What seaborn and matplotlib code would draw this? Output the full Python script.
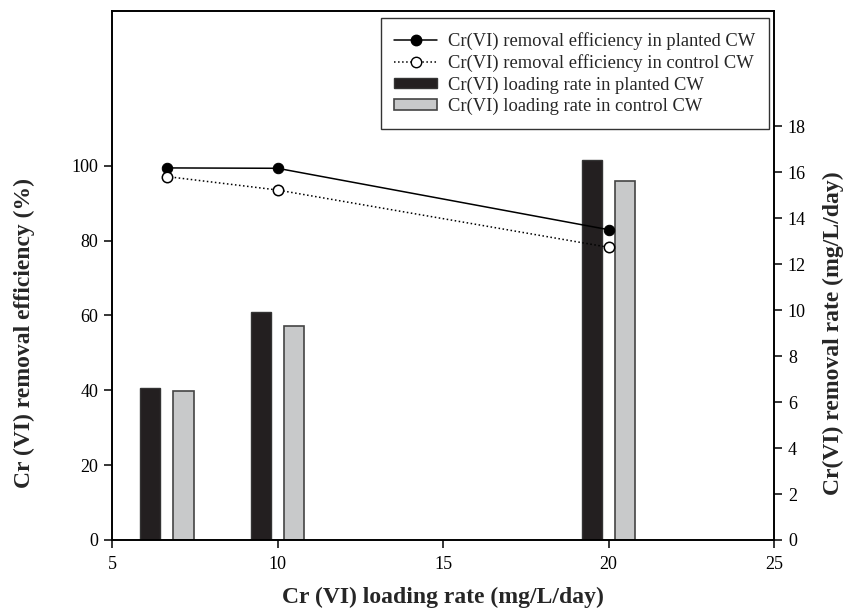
import matplotlib
matplotlib.use("Agg")
import matplotlib.pyplot as plt
import seaborn as sns
import pandas as pd
import numpy as np
from matplotlib.lines import Line2D
from matplotlib.patches import Patch

# ---- data ----
loading_rate = [6.65, 10.0, 20.0]                 # x (mg/L/day)
eff_planted = [99.4, 99.3, 82.9]                  # removal efficiency (%)
eff_control = [97.1, 93.5, 78.2]
rate_planted = [6.63, 9.91, 16.52]                # removal rate (mg/L/day)
rate_control = [6.48, 9.30, 15.61]
labels = ["Cr(VI) removal efficiency in planted CW",
          "Cr(VI) removal efficiency in control CW",
          "Cr(VI) loading rate in planted CW",
          "Cr(VI) loading rate in control CW"]

# ---- style ----
sns.set_style("ticks")
plt.rcParams["font.family"] = ["Liberation Serif", "DejaVu Serif"]

BAR_OFFSET = 0.5
BAR_W = 0.63
BLACK = "#231f20"
GRAY = "#c8c9ca"

fig = plt.figure(figsize=(8.45, 6.09), dpi=100)
ax = fig.add_axes([112 / 845, 1 - 540 / 609, (774 - 112) / 845, (540 - 10.7) / 609])
ax2 = ax.twinx()

x = np.array(loading_rate)
df_bp = pd.DataFrame({"x": x - BAR_OFFSET, "y": rate_planted})
df_bc = pd.DataFrame({"x": x + BAR_OFFSET, "y": rate_control})
w_p = BAR_W / np.min(np.diff(np.sort(df_bp["x"])))
w_c = BAR_W / np.min(np.diff(np.sort(df_bc["x"])))
sns.barplot(data=df_bp, x="x", y="y", native_scale=True, width=w_p, color=BLACK,
            saturation=1, edgecolor="#333333", linewidth=1, errorbar=None, ax=ax2)
sns.barplot(data=df_bc, x="x", y="y", native_scale=True, width=w_c, color=GRAY,
            saturation=1, edgecolor="#444444", linewidth=1.2, errorbar=None, ax=ax2)

df_lp = pd.DataFrame({"x": x, "y": eff_planted})
df_lc = pd.DataFrame({"x": x, "y": eff_control})
sns.lineplot(data=df_lp, x="x", y="y", color="black", lw=1.1, marker="o", ms=7.5,
             mfc="black", mec="black", ax=ax)
sns.lineplot(data=df_lc, x="x", y="y", color="black", lw=1.1, ls=":", marker="o", ms=7.5,
             mfc="white", mec="black", mew=1.1, ax=ax)

ax.set_zorder(ax2.get_zorder() + 1)
ax.patch.set_visible(False)

ax.set_xlim(5, 25)
ax.set_ylim(0, 141.4)
ax2.set_ylim(0, 23.04)
ax.set_xticks([5, 10, 15, 20, 25])
ax.set_yticks([0, 20, 40, 60, 80, 100])
ax2.set_yticks(list(range(0, 19, 2)))

for a in (ax, ax2):
    for s in a.spines.values():
        s.set_linewidth(1.2)
        s.set_color("black")
    a.tick_params(direction="out", length=6, width=1.1, labelsize=13, colors="black", pad=4)
ax.tick_params(axis="x", pad=5.5)

ax.set_xlabel("Cr (VI) loading rate (mg/L/day)", fontsize=17, fontweight="bold", labelpad=10)
ax.set_ylabel("Cr (VI) removal efficiency (%)", fontsize=17, fontweight="bold")
ax2.set_ylabel("Cr(VI) removal rate (mg/L/day)", fontsize=17, fontweight="bold")
ax2.set_xlabel("")
ax.yaxis.set_label_coords(-0.116, 0.391)
ax2.yaxis.set_label_coords(1.074, 0.391)

handles = [
    Line2D([], [], color="black", lw=1.1, marker="o", ms=7.5, mfc="black", mec="black"),
    Line2D([], [], color="black", lw=1.1, ls=":", marker="o", ms=7.5, mfc="white", mec="black"),
    Patch(facecolor=BLACK, edgecolor="#333333", lw=1),
    Patch(facecolor=GRAY, edgecolor="#444444", lw=1.2),
]
leg = ax.legend(handles, labels, loc="upper right", bbox_to_anchor=(0.9925, 0.986),
                borderaxespad=0, fontsize=13.3, frameon=True, fancybox=False,
                edgecolor="black", handlelength=2.3, handleheight=0.5, labelspacing=0.23,
                borderpad=0.75, handletextpad=0.6)
leg.get_frame().set_linewidth(1.0)

fig.savefig("out.png", dpi=100)
